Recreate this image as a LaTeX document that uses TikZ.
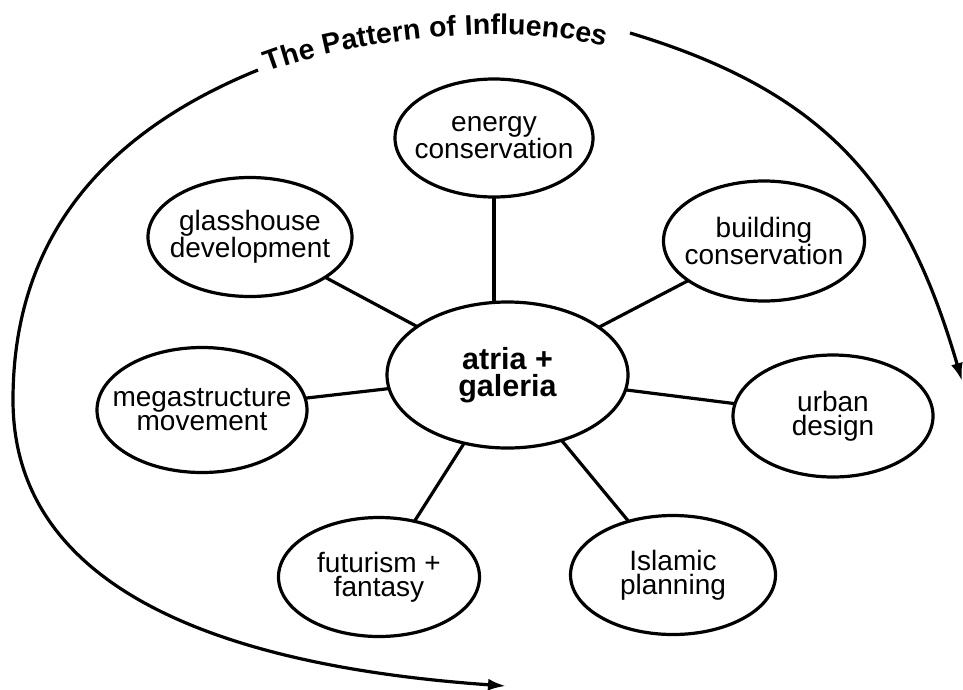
\documentclass[tikz,border=0pt]{standalone}
\usepackage{fontspec}
\setmainfont{Liberation Sans}
\usetikzlibrary{shapes.geometric,decorations.text,arrows.meta}
\begin{document}
\begin{tikzpicture}[x=1pt,y=-1pt,
  bub/.style={draw, ellipse, line width=3.2pt, inner sep=0pt, outer sep=0pt},
  lbl/.style={align=center, font=\fontsize{28}{24}\selectfont, inner sep=0pt},
  link/.style={line width=3.2pt},
  sweep/.style={line width=3.2pt, -{Latex[length=18pt,width=12pt]}}]
\useasboundingbox (0,0) rectangle (963,689);
% centre
\node[bub, minimum width=241pt, minimum height=146pt] (ctr) at (507.5,375) {};
\node[align=center, font=\bfseries\fontsize{30.5}{27}\selectfont, inner sep=0pt] (ctrt) at (ctr) {atria +\\galeria};
% satellites
\node[bub, minimum width=198pt, minimum height=118pt] (energy) at (494,138) {};
\node[lbl] (energyt) at (energy) {energy\\conservation};
\node[bub, minimum width=204pt, minimum height=119pt] (glass) at (250,237) {};
\node[lbl] (glasst) at (glass) {glasshouse\\development};
\node[bub, minimum width=210pt, minimum height=125pt] (mega) at (202,410) {};
\node[lbl] (megat) at (mega) {megastructure\\movement};
\node[bub, minimum width=201pt, minimum height=120pt] (build) at (764,241) {};
\node[lbl] (buildt) at (build) {building\\conservation};
\node[bub, minimum width=200pt, minimum height=122pt] (urban) at (833,416) {};
\node[lbl] (urbant) at (urban) {urban\\design};
\node[bub, minimum width=205pt, minimum height=119pt] (islam) at (673,575) {};
\node[lbl] (islamt) at (islam) {Islamic\\planning};
\node[bub, minimum width=201pt, minimum height=119pt] (futur) at (379,577) {};
\node[lbl] (futurt) at (futur) {futurism +\\fantasy};
% links
\draw[link] (energy) -- (energy |- ctr.north);
\draw[link] (ctr) -- (glass);
\draw[link] (ctr) -- (build);
\draw[link] (ctr) -- (mega);
\draw[link] (ctr) -- (urban);
\draw[link] (ctr) -- (futur);
\draw[link] (ctr) -- (islam);
% sweeping arrows
\coordinate (lstart) at (258,70);
\coordinate (lmid) at (13,400);
\coordinate (lend) at (506,686);
\coordinate (rstart) at (630,33);
\coordinate (rend) at (962,381);
\draw[sweep] (lstart) .. controls (91,138) and (13,250) .. (lmid)
  .. controls (13,600) and (246,667.8) .. (lend);
\draw[sweep] (rstart) .. controls (830,93) and (906,189) .. (rend);
% title along the curve
\path[decorate, decoration={text along path,
  text={|\bfseries\fontsize{28.5}{28.5}\selectfont|The Pattern of Influences},
  text align={fit to path stretching spaces}}]
  (268,72) .. controls (360,37) and (520,22) .. (605,47);
\end{tikzpicture}
\end{document}
